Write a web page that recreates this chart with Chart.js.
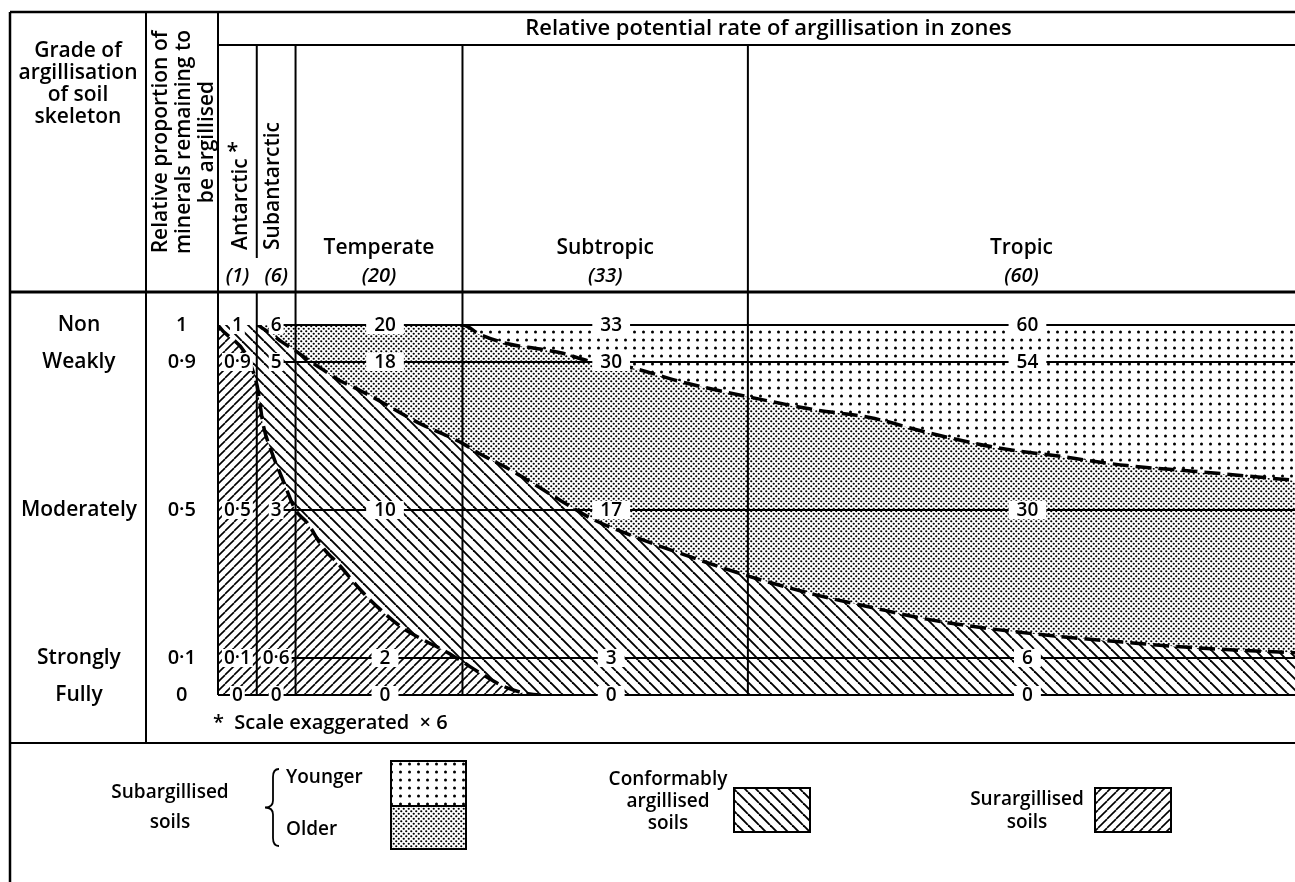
<!DOCTYPE html>
<html>
<head>
<meta charset="utf-8">
<script src="https://cdn.jsdelivr.net/npm/chart.js@4.4.1/dist/chart.umd.min.js"></script>
<style>
  html, body { margin: 0; padding: 0; background: #fff; }
  #wrap { width: 1295px; height: 882px; position: relative; }
</style>
</head>
<body>
<div id="wrap"><canvas id="argChart" width="1295" height="882"></canvas></div>
<script>
// zones and scale
const zoneNames = ['Antarctic', 'Subantarctic', 'Temperate', 'Subtropic', 'Tropic'];
const zoneRates = [1, 6, 20, 33, 60];
const zoneEdges = [0, 3.6, 7.2, 22.7, 49.2, 100];   // position across the zones (0-100)
const levels = [1, 0.9, 0.5, 0.1, 0];
const gradeLabels = ['Non', 'Weakly', 'Moderately', 'Strongly', 'Fully'];
const proportionLabels = ['1', '0·9', '0·5', '0·1', '0'];
const zoneLevelLabels = [
  ['1', '0·9', '0·5', '0·1', '0'],
  ['6', '5', '3', '0·6', '0'],
  ['20', '18', '10', '2', '0'],
  ['33', '30', '17', '3', '0'],
  ['60', '54', '30', '6', '0']
];

// boundary curves (relative proportion of minerals remaining)
const position = [0, 3.6, 4.2, 5.0, 5.9, 7.2, 8.3, 9.7, 11.3, 13.2, 15.3, 17.2, 19.0, 21.3, 22.7,
  24.3, 26.8, 29.9, 31.8, 34.8, 38.3, 43.2, 49.4, 55.6, 60.5, 65.8, 72.0, 78.2, 84.4, 90.5, 100];
const youngerBoundary = [1, 1, 1, 1, 1, 1, 1, 1, 1, 1, 1, 1, 1, 1, 1,
  0.975, 0.95, 0.935, 0.925, 0.9, 0.885, 0.845, 0.805, 0.77, 0.75, 0.71, 0.67, 0.645, 0.62, 0.605, 0.58];
const olderBoundary = [1, 1, 0.99, 0.975, 0.955, 0.93, 0.907, 0.88, 0.85, 0.823, 0.79, 0.758, 0.73, 0.70, 0.68,
  0.652, 0.614, 0.56, 0.526, 0.475, 0.432, 0.38, 0.32, 0.27, 0.238, 0.205, 0.178, 0.158, 0.142, 0.128, 0.114];
const conformBoundary = [1, 0.84, 0.73, 0.655, 0.59, 0.5, 0.465, 0.40, 0.35, 0.285, 0.225, 0.18, 0.15, 0.115, 0.09,
  0.06, 0.02, 0, 0, 0, 0, 0, 0, 0, 0, 0, 0, 0, 0, 0, 0];

const FONT = '"Open Sans", Lato, sans-serif';
const font = (size, style) => (style || '') + ' 600 ' + size + 'px ' + FONT;
const canvas = document.getElementById('argChart');
const mainCtx = canvas.getContext('2d');

function makePattern(w, h, draw) {
  const c = document.createElement('canvas');
  c.width = w; c.height = h;
  const g = c.getContext('2d');
  g.fillStyle = '#fff';
  g.fillRect(0, 0, w, h);
  g.fillStyle = '#000';
  g.strokeStyle = '#000';
  draw(g, w, h);
  return mainCtx.createPattern(c, 'repeat');
}

const dot = (g, x, y, r) => { g.beginPath(); g.arc(x, y, r, 0, Math.PI * 2); g.fill(); };

const sparseDots = makePattern(9, 8, g => dot(g, 4.5, 4, 1.5));
const denseDots = makePattern(5, 5, g => { dot(g, 1.25, 1.25, 1.1); dot(g, 3.75, 3.75, 1.1); });
function hatch(dir, lw) {
  return (g, s) => {
    g.lineWidth = lw;
    [-s, 0, s].forEach(k => {
      g.beginPath();
      if (dir > 0) { g.moveTo(k, s); g.lineTo(k + s, 0); }
      else { g.moveTo(k, 0); g.lineTo(k + s, s); }
      g.stroke();
    });
  };
}
const backHatch = makePattern(11, 11, hatch(-1, 1.9));
const fwdHatch = makePattern(9, 9, hatch(1, 1.6));

const toPts = vals => position.map((x, i) => ({ x: x, y: vals[i] }));
// hide the curve where it runs along the top or the bottom line
const curveColor = ctx => {
  const a = ctx.p0.parsed.y, b = ctx.p1.parsed.y;
  return (a >= 1 && b >= 1) || (a <= 0 && b <= 0) ? 'rgba(0,0,0,0)' : '#000';
};
const curveStyle = {
  borderColor: '#000',
  borderWidth: 3.5,
  borderDash: [16, 7],
  pointRadius: 0,
  cubicInterpolationMode: 'monotone',
  segment: { borderColor: curveColor }
};

function levelTicks(scale) {
  scale.ticks = levels.map(v => ({ value: v }));
}

const tablePlugin = {
  id: 'tableFrame',
  afterDatasetsDraw(chart) {
    const { ctx, chartArea: area, scales } = chart;
    const x = scales.x, y = scales.y, grade = scales.grade;
    const edgePx = zoneEdges.map(v => x.getPixelForValue(v));
    const outerLeft = grade.left, colGrade = grade.right;
    const top = 12, titleLine = 45, headBottom = 292, noteLine = 743;
    const right = area.right;

    ctx.save();
    ctx.strokeStyle = '#000';
    ctx.fillStyle = '#000';
    const line = (x1, y1, x2, y2, w) => {
      ctx.lineWidth = w || 2;
      ctx.beginPath(); ctx.moveTo(x1, y1); ctx.lineTo(x2, y2); ctx.stroke();
    };

    // horizontal level lines
    levels.forEach(lv => {
      const py = y.getPixelForValue(lv);
      const sx = lv === 0 ? area.left : (edgePx[1] + edgePx[2]) / 2;
      line(sx, py, right, py, 1.8);
    });

    // zone boundaries
    edgePx.slice(1, -1).forEach((px, i) => {
      line(px, titleLine, px, i === 0 ? 258 : headBottom, 2);
      line(px, headBottom, px, area.bottom, 2);
    });

    // table frame
    line(outerLeft, top, right, top, 2.5);
    line(outerLeft, top, outerLeft, 882, 2.5);
    line(colGrade, top, colGrade, noteLine, 2);
    line(area.left, top, area.left, area.bottom, 2);
    line(area.left, titleLine, right, titleLine, 2);
    line(outerLeft, headBottom, right, headBottom, 3);
    line(outerLeft, noteLine, right, noteLine, 2);

    // zone values on the level lines
    ctx.font = font(19);
    ctx.textAlign = 'center';
    ctx.textBaseline = 'middle';
    zoneLevelLabels.forEach((labels, z) => {
      const narrow = z < 2;
      const cx = (edgePx[z] + edgePx[z + 1]) / 2 + (narrow ? 0 : 6);
      const pad = narrow ? 2 : 8;
      labels.forEach((t, i) => {
        const py = y.getPixelForValue(levels[i]);
        const w = ctx.measureText(t).width;
        ctx.fillStyle = '#fff';
        ctx.fillRect(cx - w / 2 - pad, py - 9, w + pad * 2, 18);
        ctx.fillStyle = '#000';
        ctx.fillText(t, cx, py + 1);
      });
    });

    // header
    ctx.font = font(22);
    ctx.fillText('Relative potential rate of argillisation in zones', (area.left + right) / 2 + 12, 29);
    ctx.font = font(21);
    ['Grade of', 'argillisation', 'of soil', 'skeleton'].forEach((t, i) => {
      ctx.fillText(t, (outerLeft + colGrade) / 2, 51 + i * 22);
    });
    const rotText = (t, px, py, align) => {
      ctx.save();
      ctx.translate(px, py);
      ctx.rotate(-Math.PI / 2);
      ctx.textAlign = align;
      ctx.fillText(t, 0, 0);
      const w = ctx.measureText(t).width;
      ctx.restore();
      return w;
    };
    ['Relative proportion of', 'minerals remaining to', 'be argillised'].forEach((t, i) => {
      rotText(t, 161 + i * 23, 142, 'center');
    });
    const aw = rotText(zoneNames[0], (edgePx[0] + edgePx[1]) / 2 + 4, 250, 'left');
    ctx.fillText('*', (edgePx[0] + edgePx[1]) / 2 - 5, 250 - aw - 6);
    rotText(zoneNames[1], (edgePx[1] + edgePx[2]) / 2 - 3, 250, 'left');
    zoneNames.forEach((n, z) => {
      const cx = (edgePx[z] + edgePx[z + 1]) / 2;
      if (z >= 2) {
        ctx.font = font(21);
        ctx.fillText(n, cx, 248);
      }
      ctx.font = font(20, 'italic');
      ctx.fillText('(' + zoneRates[z] + ')', cx, 276);
    });

    // note under the plot
    ctx.font = font(20);
    ctx.textAlign = 'left';
    ctx.fillText('*  Scale exaggerated  × 6', area.left - 5, 723);

    // legend
    ctx.textAlign = 'center';
    ctx.font = font(19);
    ctx.fillText('Subargillised', 170, 793);
    ctx.fillText('soils', 170, 823);
    ctx.textAlign = 'left';
    ctx.fillText('Younger', 286, 778);
    ctx.fillText('Older', 286, 830);
    // brace
    const bx = 273, b1 = 769, b2 = 846, bm = (b1 + b2) / 2;
    ctx.lineWidth = 1.8;
    ctx.beginPath();
    ctx.moveTo(bx + 6, b1);
    ctx.quadraticCurveTo(bx, b1, bx, b1 + 8);
    ctx.lineTo(bx, bm - 7);
    ctx.quadraticCurveTo(bx, bm, bx - 8, bm);
    ctx.quadraticCurveTo(bx, bm, bx, bm + 7);
    ctx.lineTo(bx, b2 - 8);
    ctx.quadraticCurveTo(bx, b2, bx + 6, b2);
    ctx.stroke();

    const swatch = (sx, sy, w, h, pat) => {
      ctx.fillStyle = pat;
      ctx.fillRect(sx, sy, w, h);
      ctx.lineWidth = 2;
      ctx.strokeRect(sx, sy, w, h);
    };
    swatch(391, 761, 75, 45, sparseDots);
    swatch(391, 806, 75, 43, denseDots);
    swatch(734, 788, 76, 44, backHatch);
    swatch(1095, 788, 76, 44, fwdHatch);

    ctx.fillStyle = '#000';
    ctx.textAlign = 'center';
    ctx.fillText('Conformably', 668, 780);
    ctx.fillText('argillised', 668, 802);
    ctx.fillText('soils', 668, 824);
    ctx.fillText('Surargillised', 1027, 800);
    ctx.fillText('soils', 1027, 823);
    ctx.restore();
  }
};

new Chart(canvas, {
  type: 'line',
  data: {
    datasets: [
      Object.assign({ label: 'Younger subargillised soils', data: toPts(youngerBoundary),
        fill: { value: 1 }, backgroundColor: sparseDots }, curveStyle),
      Object.assign({ label: 'Older subargillised soils', data: toPts(olderBoundary),
        fill: 0, backgroundColor: denseDots }, curveStyle),
      Object.assign({ label: 'Conformably argillised soils', data: toPts(conformBoundary),
        fill: 1, backgroundColor: backHatch }, curveStyle),
      { label: 'Surargillised soils', data: toPts(conformBoundary), fill: 'start',
        backgroundColor: fwdHatch, borderWidth: 0, pointRadius: 0, cubicInterpolationMode: 'monotone' }
    ]
  },
  options: {
    responsive: false,
    animation: false,
    devicePixelRatio: 1,
    events: [],
    layout: { padding: { left: 10, top: 325, right: 0, bottom: 187 } },
    plugins: {
      legend: { display: false },
      tooltip: { enabled: false },
      filler: { drawTime: 'beforeDatasetsDraw' }
    },
    scales: {
      x: { type: 'linear', min: 0, max: 100, display: false },
      y: {
        min: 0, max: 1, position: 'left', weight: 0,
        grid: { display: false, drawTicks: false }, border: { display: false },
        afterBuildTicks: levelTicks,
        afterFit: s => { s.width = 72; },
        ticks: {
          autoSkip: false, crossAlign: 'center', padding: 22, color: '#000',
          font: { family: FONT, size: 20, weight: '600' },
          callback: v => proportionLabels[levels.indexOf(v)]
        }
      },
      grade: {
        type: 'linear', min: 0, max: 1, position: 'left', weight: 1,
        grid: { display: false, drawTicks: false }, border: { display: false },
        afterBuildTicks: levelTicks,
        afterFit: s => { s.width = 136; },
        ticks: {
          autoSkip: false, crossAlign: 'center', padding: 9, color: '#000',
          font: { family: FONT, size: 21, weight: '600' },
          callback: v => gradeLabels[levels.indexOf(v)]
        }
      }
    }
  },
  plugins: [tablePlugin]
});
</script>
</body>
</html>
